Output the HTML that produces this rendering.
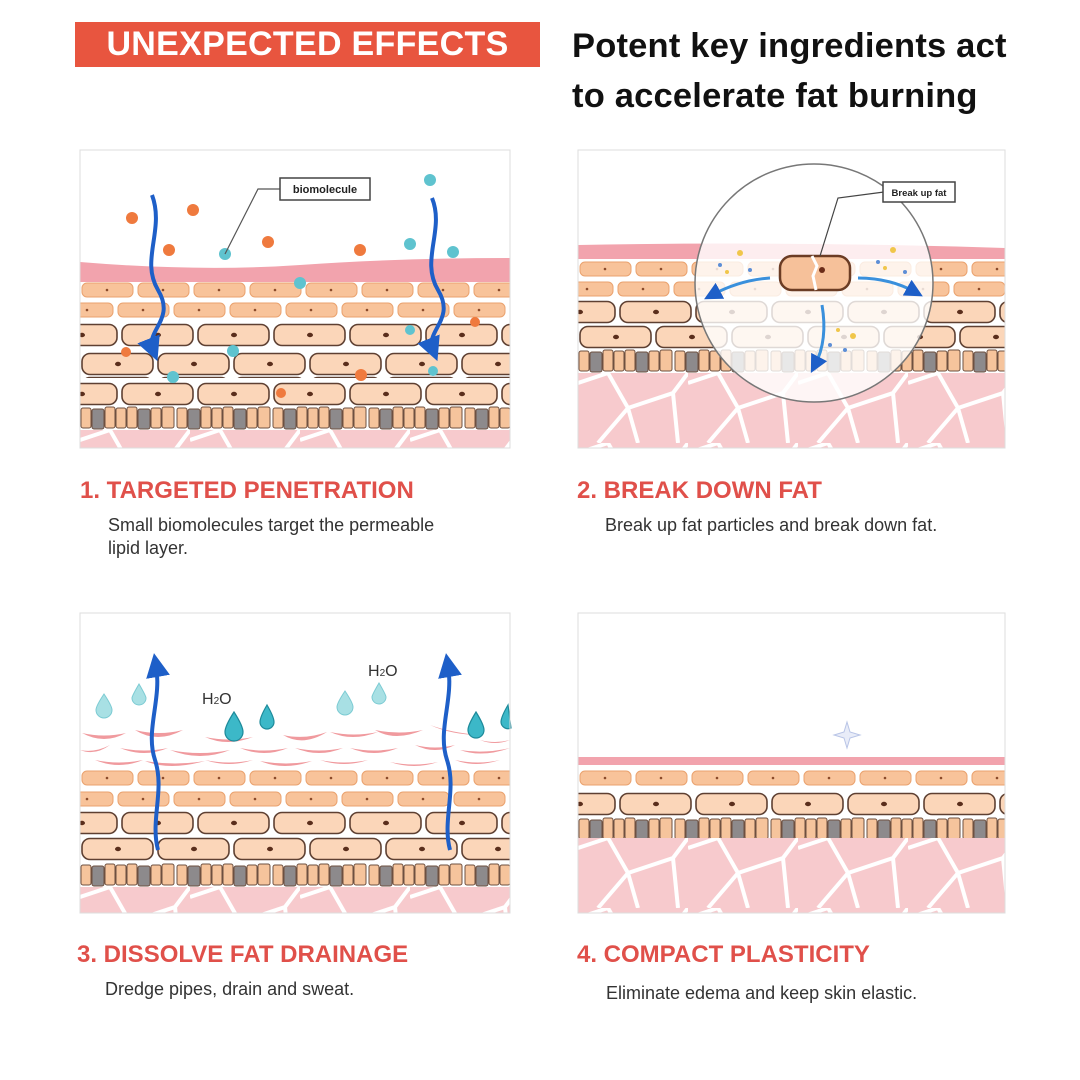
<!DOCTYPE html>
<html><head><meta charset="utf-8"><style>
html,body{margin:0;padding:0;background:#fff;width:1080px;height:1080px;overflow:hidden}
body{position:relative;font-family:"Liberation Sans",Arial,sans-serif}
.hdr{position:absolute;left:75px;top:22px;width:465px;height:45px;background:#e8553f;color:#fff;font-weight:bold;font-size:34px;line-height:45px;text-align:center;letter-spacing:0.3px}
.sub{position:absolute;left:572px;top:21px;font-weight:bold;font-size:34.5px;line-height:50px;color:#111;letter-spacing:0.2px}
.cap{position:absolute;color:#e0504a;font-weight:bold;font-size:24px}
.desc{position:absolute;color:#333;font-size:18px;line-height:23px}
svg{position:absolute;left:0;top:0}
</style></head><body>
<div class="hdr">UNEXPECTED EFFECTS</div>
<div class="sub">Potent key ingredients act<br>to accelerate fat burning</div>

<svg width="1080" height="1080" viewBox="0 0 1080 1080">
<defs>
<pattern id="or" width="56" height="16" patternUnits="userSpaceOnUse">
<rect x="2" y="1" width="51" height="14" rx="5" fill="#f8c39a" stroke="#eaa26e" stroke-width="1"/>
<circle cx="27" cy="8" r="1.3" fill="#8a4a2a"/></pattern>
<pattern id="cr" width="76" height="24" patternUnits="userSpaceOnUse">
<rect x="2" y="1.5" width="71" height="21" rx="8" fill="#fbd6b9" stroke="#5e4032" stroke-width="1.6"/>
<ellipse cx="38" cy="12" rx="3" ry="2.2" fill="#5a2e1c"/></pattern>
<pattern id="cr2" width="76" height="24" patternUnits="userSpaceOnUse" patternTransform="translate(-36,0)">
<rect x="2" y="1.5" width="71" height="21" rx="8" fill="#fbd6b9" stroke="#5e4032" stroke-width="1.6"/>
<ellipse cx="38" cy="12" rx="3" ry="2.2" fill="#5a2e1c"/></pattern>
<pattern id="sc" width="96" height="24" patternUnits="userSpaceOnUse">
<g stroke="#6e5040" stroke-width="1">
<rect x="1" y="2" width="10" height="20" rx="2" fill="#f6c49c"/>
<rect x="12" y="3" width="12" height="20" rx="2" fill="#8d8a8c"/>
<rect x="25" y="1" width="10" height="21" rx="2" fill="#f6c49c"/>
<rect x="36" y="2" width="10" height="20" rx="2" fill="#f6c49c"/>
<rect x="47" y="1" width="10" height="21" rx="2" fill="#f6c49c"/>
<rect x="58" y="3" width="12" height="20" rx="2" fill="#8d8a8c"/>
<rect x="71" y="2" width="10" height="20" rx="2" fill="#f6c49c"/>
<rect x="82" y="1" width="12" height="21" rx="2" fill="#f6c49c"/></g></pattern>
<pattern id="net" width="110" height="70" patternUnits="userSpaceOnUse">
<rect width="110" height="70" fill="#f7cacd"/>
<path d="M0 10 L30 0 M30 0 L50 35 L20 70 M50 35 L95 20 L110 0 M95 20 L100 70 M50 35 L60 70" stroke="#fff" stroke-width="4" fill="none"/></pattern>
<marker id="ah" markerWidth="6" markerHeight="6" refX="3" refY="3" orient="auto"><path d="M0 0 L6 3 L0 6 Z" fill="#1e5fc8"/></marker>
</defs>

<!-- Panel 1 -->
<g>
<rect x="80" y="150" width="430" height="298" fill="#fff" stroke="#ddd"/>
<path d="M80 262 Q200 272 300 265 T510 258 L510 282 L80 282 Z" fill="#f2a3ad"/>
<rect x="80" y="282" width="430" height="126" fill="#fff"/>
<g transform="translate(80,282)"><rect width="430" height="16" fill="url(#or)"/></g>
<g transform="translate(60,302)"><rect x="20" width="430" height="16" fill="url(#or)"/></g>
<g transform="translate(80,323)"><rect width="430" height="24" fill="url(#cr2)"/></g>
<g transform="translate(80,352)"><rect width="430" height="26" fill="url(#cr)"/></g>
<g transform="translate(80,382)"><rect width="430" height="24" fill="url(#cr2)"/></g>
<g transform="translate(80,406)"><rect width="430" height="24" fill="url(#sc)"/></g>
<g transform="translate(80,430)"><rect width="430" height="18" fill="url(#net)"/></g>
<rect x="80" y="150" width="430" height="298" fill="none" stroke="#ddd"/>
<path d="M152 195 C165 230 140 260 158 290 S145 330 153 350" stroke="#1e5fc8" stroke-width="4" fill="none" marker-end="url(#ah)"/>
<path d="M432 198 C445 230 420 260 438 290 S425 330 433 350" stroke="#1e5fc8" stroke-width="4" fill="none" marker-end="url(#ah)"/>
<g fill="#ef7a3e"><circle cx="132" cy="218" r="6"/><circle cx="193" cy="210" r="6"/><circle cx="169" cy="250" r="6"/><circle cx="268" cy="242" r="6"/><circle cx="360" cy="250" r="6"/><circle cx="475" cy="322" r="5"/><circle cx="126" cy="352" r="5"/><circle cx="361" cy="375" r="6"/><circle cx="281" cy="393" r="5"/></g>
<g fill="#5fc3cf"><circle cx="430" cy="180" r="6"/><circle cx="410" cy="244" r="6"/><circle cx="453" cy="252" r="6"/><circle cx="225" cy="254" r="6"/><circle cx="300" cy="283" r="6"/><circle cx="233" cy="351" r="6"/><circle cx="173" cy="377" r="6"/><circle cx="410" cy="330" r="5"/><circle cx="433" cy="371" r="5"/></g>
<path d="M225 254 L258 189 L280 189" stroke="#555" stroke-width="1.2" fill="none"/>
<rect x="280" y="178" width="90" height="22" fill="#fff" stroke="#444" stroke-width="1.5"/>
<text x="325" y="193" font-size="11" font-weight="bold" text-anchor="middle" fill="#222" font-family="Liberation Sans">biomolecule</text>
</g>

<!-- Panel 2 -->
<g>
<rect x="578" y="150" width="427" height="298" fill="#fff"/>
<path d="M578 245 Q790 241 1005 248 L1005 259 L578 259 Z" fill="#f2a3ad"/>
<g transform="translate(578,261)"><rect width="427" height="16" fill="url(#or)"/></g>
<g transform="translate(560,281)"><rect x="18" width="427" height="16" fill="url(#or)"/></g>
<g transform="translate(578,300)"><rect width="427" height="24" fill="url(#cr2)"/></g>
<g transform="translate(578,325)"><rect width="427" height="24" fill="url(#cr)"/></g>
<g transform="translate(578,349)"><rect width="427" height="24" fill="url(#sc)"/></g>
<g transform="translate(578,373)"><rect width="427" height="75" fill="url(#net)"/></g>
<circle cx="814" cy="283" r="119" fill="#fff" fill-opacity="0.8" stroke="#777" stroke-width="1.5"/>
<rect x="780" y="256" width="70" height="34" rx="12" fill="#f6c19a" stroke="#6b3c24" stroke-width="2.5"/>
<path d="M812 256 L817 266 L813 276 L816 290" stroke="#fff" stroke-width="3" fill="none"/>
<circle cx="822" cy="270" r="3" fill="#6b2c18"/>
<path d="M770 278 Q740 280 712 295" stroke="#3a90dc" stroke-width="3" fill="none" marker-end="url(#ah)"/>
<path d="M858 278 Q890 278 915 292" stroke="#3a90dc" stroke-width="3" fill="none" marker-end="url(#ah)"/>
<path d="M822 305 Q828 340 815 365" stroke="#3a90dc" stroke-width="3" fill="none" marker-end="url(#ah)"/>
<g fill="#f0c64a"><circle cx="740" cy="253" r="3"/><circle cx="893" cy="250" r="3"/><circle cx="853" cy="336" r="3"/><circle cx="727" cy="272" r="2"/><circle cx="885" cy="268" r="2"/><circle cx="838" cy="330" r="2"/></g>
<g fill="#5d8ed6"><circle cx="720" cy="265" r="2"/><circle cx="750" cy="270" r="2"/><circle cx="878" cy="262" r="2"/><circle cx="905" cy="272" r="2"/><circle cx="830" cy="345" r="2"/><circle cx="845" cy="350" r="2"/></g>
<path d="M820 256 L838 198 L884 192" stroke="#444" stroke-width="1.2" fill="none"/>
<rect x="883" y="182" width="72" height="20" fill="#fff" stroke="#444" stroke-width="1.5"/>
<text x="919" y="196" font-size="9.5" font-weight="bold" text-anchor="middle" fill="#222" font-family="Liberation Sans">Break up fat</text>
<rect x="578" y="150" width="427" height="298" fill="none" stroke="#ddd"/>
</g>

<!-- Panel 3 -->
<g>
<rect x="80" y="613" width="430" height="300" fill="#fff"/>
<g fill="#f09a9e">
<path d="M82 733 q22 12 44 0 q-22 5 -44 0z"/><path d="M135 730 q22 14 48 0 q-24 6 -48 0z"/><path d="M205 737 q22 10 48 0 q-24 5 -48 0z"/><path d="M283 735 q20 12 44 -3 q-22 8 -44 3z"/><path d="M330 732 q22 10 48 0 q-24 5 -48 0z"/><path d="M375 730 q20 12 48 0 q-24 5 -48 0z"/><path d="M430 725 q22 10 50 10 q-28 -2 -50 -10z"/><path d="M480 740 q15 6 30 0 q-15 4 -30 0z"/>
<path d="M80 750 q15 6 30 -5 q-15 8 -30 5z"/><path d="M120 748 q24 10 48 0 q-24 5 -48 0z"/><path d="M170 750 q30 12 60 0 q-30 6 -60 0z"/><path d="M240 748 q24 10 48 0 q-24 5 -48 0z"/><path d="M295 748 q24 10 48 0 q-24 5 -48 0z"/><path d="M350 748 q24 10 48 0 q-24 5 -48 0z"/><path d="M415 745 q20 10 40 0 q-20 5 -40 0z"/><path d="M460 750 q22 8 50 -2 q-26 6 -50 2z"/>
<path d="M95 760 q24 10 48 0 q-24 5 -48 0z"/><path d="M145 761 q24 10 60 0 q-30 5 -60 0z"/><path d="M205 760 q24 8 48 0 q-24 5 -48 0z"/><path d="M260 761 q24 10 52 0 q-26 5 -52 0z"/><path d="M320 760 q24 8 48 0 q-24 5 -48 0z"/><path d="M390 762 q24 8 48 0 q-24 5 -48 0z"/><path d="M455 760 q20 8 45 0 q-22 5 -45 0z"/>
</g>
<g transform="translate(80,770)"><rect width="430" height="16" fill="url(#or)"/></g>
<g transform="translate(60,791)"><rect x="20" width="430" height="16" fill="url(#or)"/></g>
<g transform="translate(80,811)"><rect width="430" height="24" fill="url(#cr2)"/></g>
<g transform="translate(80,837)"><rect width="430" height="24" fill="url(#cr)"/></g>
<g transform="translate(80,863)"><rect width="430" height="24" fill="url(#sc)"/></g>
<g transform="translate(80,887)"><rect width="430" height="26" fill="url(#net)"/></g>
<path d="M158 850 C150 820 165 790 155 760 S162 700 156 665" stroke="#1e5fc8" stroke-width="4" fill="none" marker-end="url(#ah)"/>
<path d="M450 850 C442 820 457 790 447 760 S454 700 448 665" stroke="#1e5fc8" stroke-width="4" fill="none" marker-end="url(#ah)"/>
<g fill="#a8e0e4" stroke="#7ccbd3" stroke-width="1"><path d="M104 694 q-8 12 -8 16 a8 8 0 0 0 16 0 q0 -4 -8 -16z"/><path d="M139 684 q-7 12 -7 14 a7 7 0 0 0 14 0 q0 -2 -7 -14z"/><path d="M345 691 q-8 12 -8 16 a8 8 0 0 0 16 0 q0 -4 -8 -16z"/><path d="M379 683 q-7 12 -7 14 a7 7 0 0 0 14 0 q0 -2 -7 -14z"/></g>
<g fill="#3cb8c8" stroke="#1d8a9a" stroke-width="1.2"><path d="M234 712 q-9 14 -9 20 a9 9 0 0 0 18 0 q0 -6 -9 -20z"/><path d="M267 705 q-7 12 -7 17 a7 7 0 0 0 14 0 q0 -5 -7 -17z"/><path d="M476 712 q-8 13 -8 18 a8 8 0 0 0 16 0 q0 -5 -8 -18z"/><path d="M508 705 q-7 12 -7 17 a7 7 0 0 0 10 6z"/></g>
<text x="202" y="704" font-size="16" fill="#333" font-family="Liberation Sans">H<tspan font-size="10">2</tspan>O</text>
<text x="368" y="676" font-size="16" fill="#333" font-family="Liberation Sans">H<tspan font-size="10">2</tspan>O</text>
<rect x="80" y="613" width="430" height="300" fill="none" stroke="#ddd"/>
</g>

<!-- Panel 4 -->
<g>
<rect x="578" y="613" width="427" height="300" fill="#fff"/>
<rect x="578" y="757" width="427" height="8" fill="#f2a3ad"/>
<g transform="translate(578,770)"><rect width="427" height="16" fill="url(#or)"/></g>
<g transform="translate(578,792)"><rect width="427" height="24" fill="url(#cr2)"/></g>
<g transform="translate(578,817)"><rect width="427" height="22" fill="url(#sc)"/></g>
<g transform="translate(578,838)"><rect width="427" height="75" fill="url(#net)"/></g>
<path d="M847 722 L850 732 L860 735 L850 738 L847 748 L844 738 L834 735 L844 732Z" fill="#e8ecf8" stroke="#b8c4e6" stroke-width="1"/>
<rect x="578" y="613" width="427" height="300" fill="none" stroke="#ddd"/>
</g>
</svg>

<div class="cap" style="left:80px;top:477px">1. TARGETED PENETRATION</div>
<div class="desc" style="left:108px;top:514px">Small biomolecules target the permeable<br>lipid layer.</div>
<div class="cap" style="left:577px;top:477px">2. BREAK DOWN FAT</div>
<div class="desc" style="left:605px;top:514px">Break up fat particles and break down fat.</div>
<div class="cap" style="left:77px;top:941px">3. DISSOLVE FAT DRAINAGE</div>
<div class="desc" style="left:105px;top:978px">Dredge pipes, drain and sweat.</div>
<div class="cap" style="left:577px;top:941px">4. COMPACT PLASTICITY</div>
<div class="desc" style="left:606px;top:982px">Eliminate edema and keep skin elastic.</div>
</body></html>
